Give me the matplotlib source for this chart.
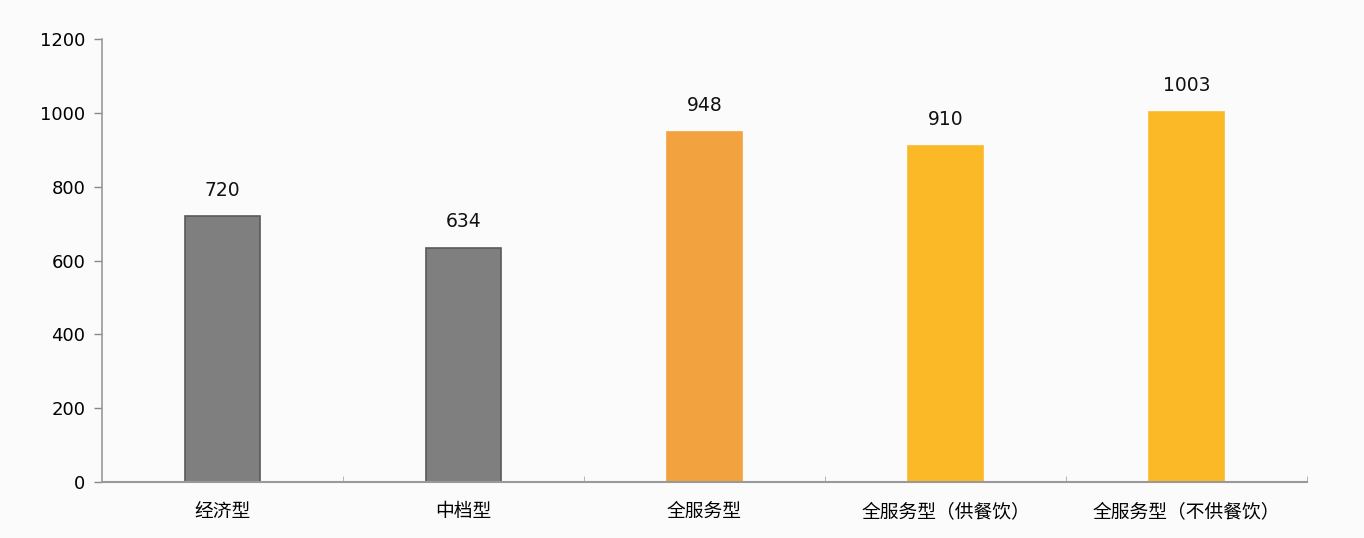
import matplotlib
matplotlib.use("Agg")
import matplotlib.pyplot as plt
from matplotlib.ticker import FixedLocator

plt.rcParams['font.family'] = ['Noto Sans CJK SC', 'DejaVu Sans']

categories = ["经济型", "中档型", "全服务型", "全服务型（供餐饮）", "全服务型（不供餐饮）"]
values = [720, 634, 948, 910, 1003]
bar_colors = ["#7f7f7f", "#7f7f7f", "#f2a23f", "#fbb927", "#fbb927"]
edge_colors = ["#595959", "#595959", "#f2a23f", "#fbb927", "#fbb927"]
yticks = [0, 200, 400, 600, 800, 1000, 1200]

fig = plt.figure(figsize=(13.64, 5.38), dpi=100)
fig.patch.set_facecolor("#fbfbfb")
ax = fig.add_axes([102 / 1364, 56 / 538, 1205 / 1364, 443 / 538])
ax.set_facecolor("#fbfbfb")

x = list(range(len(categories)))
bars = ax.bar(x, values, width=0.31, color=bar_colors, edgecolor=edge_colors, linewidth=1.2)

# etiquetas de valor encima de cada barra
for xi, v in zip(x, values):
    ax.text(xi, v + 45, str(v), ha="center", va="bottom", fontsize=13.5,
            family=["DejaVu Sans"], color="#111111")

ax.set_xlim(-0.5, len(categories) - 0.5)
ax.set_ylim(0, 1200)
ax.set_yticks(yticks)
ax.set_yticklabels([str(t) for t in yticks], family=["DejaVu Sans"], fontsize=13)
ax.tick_params(axis="y", length=6, width=1, color="#888888", pad=6)

ax.set_xticks(x)
ax.set_xticklabels(categories, fontsize=13.5)
ax.tick_params(axis="x", length=0, pad=25)
for lbl in ax.get_xticklabels():
    lbl.set_va("baseline")
ax.xaxis.set_minor_locator(FixedLocator([i + 0.5 for i in x]))
ax.tick_params(axis="x", which="minor", direction="in", length=4, color="#aaaaaa")

for side in ["top", "right"]:
    ax.spines[side].set_visible(False)
ax.spines["left"].set_color("#999999")
ax.spines["bottom"].set_color("#999999")
ax.spines["left"].set_linewidth(1.2)
ax.spines["bottom"].set_linewidth(1.5)

fig.savefig("out.png", dpi=100, facecolor=fig.get_facecolor())
